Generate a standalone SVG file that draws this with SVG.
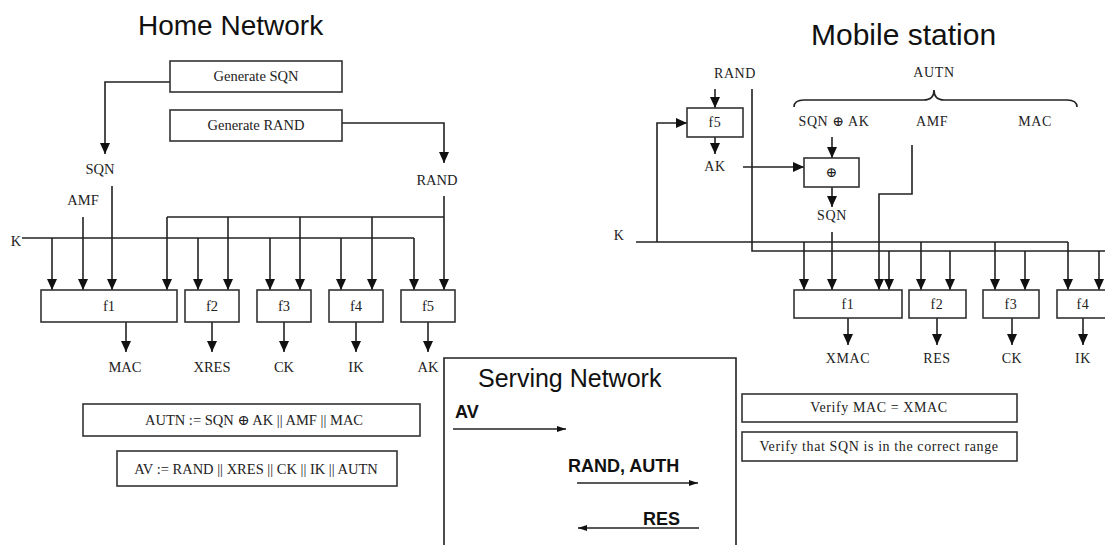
<svg xmlns="http://www.w3.org/2000/svg" width="1105" height="545" viewBox="0 0 1105 545">
<style>
  .bg { fill: #ffffff; }
  .box { fill: #ffffff; stroke: #333; stroke-width: 1.6; }
  .ln { fill: none; stroke: #222; stroke-width: 1.6; }
  .t { font-family: "Liberation Serif", "DejaVu Serif", serif; font-size: 14.5px; fill: #222; text-anchor: middle; }
  .ts { font-family: "Liberation Serif", "DejaVu Serif", serif; font-size: 14px; fill: #222; text-anchor: middle; letter-spacing: 0.6px; }
  .title { font-family: "Liberation Sans", Arial, sans-serif; fill: #111; }
  .bold { font-family: "Liberation Sans", Arial, sans-serif; font-weight: bold; font-size: 18px; fill: #111; }
</style>
<defs>
  <marker id="ah" markerUnits="userSpaceOnUse" markerWidth="11" markerHeight="11" refX="11" refY="5.5" orient="auto">
    <path d="M0,0.5 L11,5.5 L0,10.5 z" fill="#111"/>
  </marker>
  <marker id="ahs" markerUnits="userSpaceOnUse" markerWidth="9" markerHeight="8" refX="9" refY="4" orient="auto">
    <path d="M0,1 L9,4 L0,7 z" fill="#111"/>
  </marker>
</defs>
<rect class="bg" x="0" y="0" width="1105" height="545"/>

<!-- Titles -->
<text class="title" x="138" y="35" font-size="28">Home Network</text>
<text class="title" x="811" y="45" font-size="30">Mobile station</text>

<!-- Connectors -->
<g id="connectors">
  <!-- Home network -->
  <path class="ln" d="M170,82 H105 V154" marker-end="url(#ah)"/>
  <path class="ln" d="M342,123 H444 V163" marker-end="url(#ah)"/>
  <path class="ln" d="M112,186 V290" marker-end="url(#ah)"/>
  <path class="ln" d="M83,217 V290" marker-end="url(#ah)"/>
  <path class="ln" d="M444,196 V290" marker-end="url(#ah)"/>
  <path class="ln" d="M167,217 H444"/>
  <path class="ln" d="M167,217 V290" marker-end="url(#ah)"/>
  <path class="ln" d="M228,217 V290" marker-end="url(#ah)"/>
  <path class="ln" d="M300,217 V290" marker-end="url(#ah)"/>
  <path class="ln" d="M372,217 V290" marker-end="url(#ah)"/>
  <path class="ln" d="M22,238 H414"/>
  <path class="ln" d="M52,238 V290" marker-end="url(#ah)"/>
  <path class="ln" d="M198,238 V290" marker-end="url(#ah)"/>
  <path class="ln" d="M270,238 V290" marker-end="url(#ah)"/>
  <path class="ln" d="M341,238 V290" marker-end="url(#ah)"/>
  <path class="ln" d="M414,238 V290" marker-end="url(#ah)"/>
  <path class="ln" d="M126,322 V352" marker-end="url(#ah)"/>
  <path class="ln" d="M212,322 V352" marker-end="url(#ah)"/>
  <path class="ln" d="M284,322 V352" marker-end="url(#ah)"/>
  <path class="ln" d="M356,322 V352" marker-end="url(#ah)"/>
  <path class="ln" d="M428,322 V352" marker-end="url(#ah)"/>

  <!-- Serving network -->
  <path class="ln" d="M453,429 H566" marker-end="url(#ahs)"/>
  <path class="ln" d="M577,483 H698" marker-end="url(#ahs)"/>
  <path class="ln" d="M699,528 H578" marker-end="url(#ahs)"/>

  <!-- Mobile station -->
  <path class="ln" d="M794,107 Q794,100 804,100 L924,100 Q934,100 934,90 Q934,100 944,100 L1067,100 Q1077,100 1077,107"/>
  <path class="ln" d="M715,89 V108" marker-end="url(#ah)"/>
  <path class="ln" d="M657,242 V123 H687" marker-end="url(#ah)"/>
  <path class="ln" d="M715,137 V154" marker-end="url(#ah)"/>
  <path class="ln" d="M743,167 H804" marker-end="url(#ah)"/>
  <path class="ln" d="M832,137 V158" marker-end="url(#ah)"/>
  <path class="ln" d="M832,187 V207" marker-end="url(#ah)"/>
  <path class="ln" d="M832,232 V290" marker-end="url(#ah)"/>
  <path class="ln" d="M912,145 V194 H879 V290" marker-end="url(#ah)"/>
  <path class="ln" d="M752,89 V251 H1106"/>
  <path class="ln" d="M636,242 H1068"/>
  <path class="ln" d="M804,242 V290" marker-end="url(#ah)"/>
  <path class="ln" d="M921,242 V290" marker-end="url(#ah)"/>
  <path class="ln" d="M995,242 V290" marker-end="url(#ah)"/>
  <path class="ln" d="M1068,242 V290" marker-end="url(#ah)"/>
  <path class="ln" d="M889,251 V290" marker-end="url(#ah)"/>
  <path class="ln" d="M950,251 V290" marker-end="url(#ah)"/>
  <path class="ln" d="M1025,251 V290" marker-end="url(#ah)"/>
  <path class="ln" d="M1099,251 V290" marker-end="url(#ah)"/>
  <path class="ln" d="M848,318 V345" marker-end="url(#ah)"/>
  <path class="ln" d="M937,318 V345" marker-end="url(#ah)"/>
  <path class="ln" d="M1012,318 V345" marker-end="url(#ah)"/>
  <path class="ln" d="M1083,318 V345" marker-end="url(#ah)"/>
</g>

<!-- Home network nodes -->
<g id="gen-sqn"><rect class="box" x="170" y="61" width="172" height="31"/><text class="t" x="256" y="81">Generate SQN</text></g>
<g id="gen-rand"><rect class="box" x="170" y="110" width="172" height="31"/><text class="t" x="256" y="130">Generate RAND</text></g>
<g id="hn-labels">
  <text class="t" x="100" y="174">SQN</text>
  <text class="t" x="437" y="185">RAND</text>
  <text class="t" x="83" y="205">AMF</text>
  <text class="t" x="16" y="246">K</text>
</g>
<g id="hn-f1"><rect class="box" x="41" y="290" width="136" height="32"/><text class="t" x="109" y="311">f1</text></g>
<g id="hn-f2"><rect class="box" x="185" y="290" width="54" height="32"/><text class="t" x="212" y="311">f2</text></g>
<g id="hn-f3"><rect class="box" x="257" y="290" width="54" height="32"/><text class="t" x="284" y="311">f3</text></g>
<g id="hn-f4"><rect class="box" x="329" y="290" width="54" height="32"/><text class="t" x="356" y="311">f4</text></g>
<g id="hn-f5"><rect class="box" x="401" y="290" width="54" height="32"/><text class="t" x="428" y="311">f5</text></g>
<g id="hn-outputs">
  <text class="t" x="125" y="372">MAC</text>
  <text class="t" x="212" y="372">XRES</text>
  <text class="t" x="284" y="372">CK</text>
  <text class="t" x="356" y="372">IK</text>
  <text class="t" x="428" y="372">AK</text>
</g>
<g id="autn-box"><rect class="box" x="83" y="404" width="337" height="32"/><text class="t" x="254" y="425">AUTN := SQN ⊕ AK || AMF || MAC</text></g>
<g id="av-box"><rect class="box" x="117" y="451" width="280" height="35"/><text class="t" x="256" y="474">AV := RAND || XRES || CK || IK || AUTN</text></g>

<!-- Serving network -->
<g id="serving">
  <path class="ln" d="M444,550 V358 H736 V550" stroke="#333"/>
  <text class="title" x="478" y="387" font-size="25">Serving Network</text>
  <text class="bold" x="455" y="418">AV</text>
  <text class="bold" x="568" y="472">RAND, AUTH</text>
  <text class="bold" x="643" y="525">RES</text>
</g>

<!-- Mobile station nodes -->
<g id="ms-labels">
  <text class="ts" x="735" y="78">RAND</text>
  <text class="ts" x="934" y="77">AUTN</text>
  <text class="ts" x="834" y="126">SQN ⊕ AK</text>
  <text class="ts" x="932" y="126">AMF</text>
  <text class="ts" x="1035" y="126">MAC</text>
  <text class="ts" x="715" y="171">AK</text>
  <text class="ts" x="832" y="220">SQN</text>
  <text class="ts" x="619" y="240">K</text>
</g>
<g id="ms-f5"><rect class="box" x="687" y="108" width="56" height="29"/><text class="ts" x="715" y="127">f5</text></g>
<g id="ms-xor"><rect class="box" x="804" y="158" width="55" height="29"/><text class="ts" x="832" y="177">⊕</text></g>
<g id="ms-f1"><rect class="box" x="794" y="290" width="108" height="28"/><text class="ts" x="848" y="309">f1</text></g>
<g id="ms-f2"><rect class="box" x="909" y="290" width="57" height="28"/><text class="ts" x="937" y="309">f2</text></g>
<g id="ms-f3"><rect class="box" x="983" y="290" width="56" height="28"/><text class="ts" x="1011" y="309">f3</text></g>
<g id="ms-f4"><rect class="box" x="1057" y="290" width="60" height="28"/><text class="ts" x="1083" y="309">f4</text></g>
<g id="ms-outputs">
  <text class="ts" x="848" y="363">XMAC</text>
  <text class="ts" x="937" y="363">RES</text>
  <text class="ts" x="1012" y="363">CK</text>
  <text class="ts" x="1083" y="363">IK</text>
</g>
<g id="verify-mac"><rect class="box" x="742" y="394" width="275" height="28"/><text class="ts" x="879" y="412">Verify MAC = XMAC</text></g>
<g id="verify-sqn"><rect class="box" x="742" y="432" width="275" height="29"/><text class="ts" x="879" y="451">Verify that SQN is in the correct range</text></g>
</svg>
